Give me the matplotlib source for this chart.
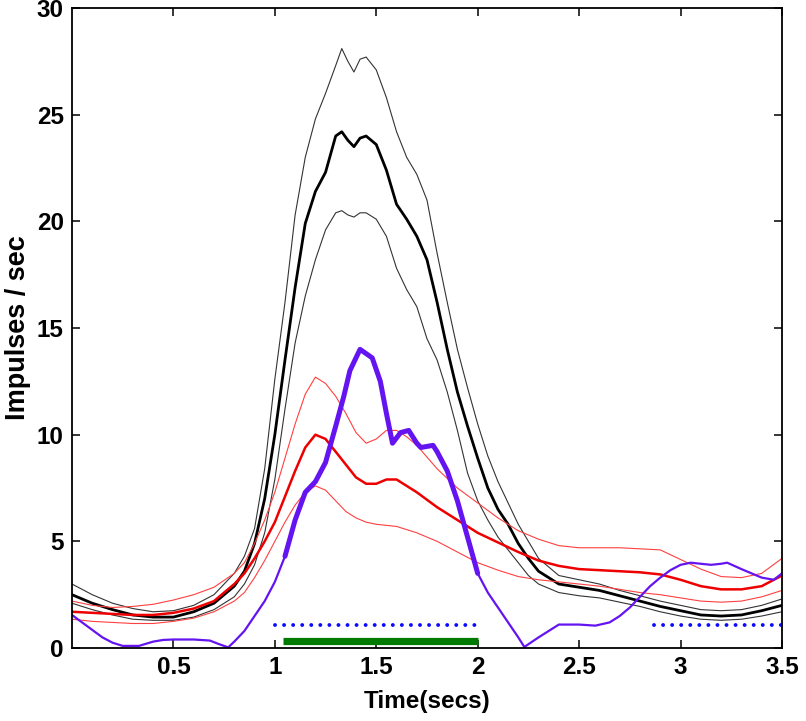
import numpy as np
import matplotlib
matplotlib.use("Agg")
import matplotlib.pyplot as plt

plt.rcParams['font.family'] = ['Liberation Sans', 'DejaVu Sans']

# -------------------- data --------------------
# black: mean firing rate with upper / lower band
blk_x = [0, 0.1, 0.2, 0.3, 0.4, 0.5, 0.6, 0.7, 0.8, 0.85, 0.9, 0.95, 1.0, 1.05,
         1.1, 1.15, 1.2, 1.25, 1.3, 1.33, 1.36, 1.39, 1.42, 1.45, 1.5, 1.55, 1.6,
         1.65, 1.7, 1.75, 1.8, 1.85, 1.9, 1.95, 2.0, 2.05, 2.1, 2.15, 2.2, 2.25,
         2.3, 2.4, 2.5, 2.6, 2.7, 2.8, 2.9, 3.0, 3.1, 3.2, 3.3, 3.4, 3.5]
blk_mean = [2.5, 2.1, 1.8, 1.55, 1.45, 1.45, 1.7, 2.1, 2.9, 3.6, 4.9, 7.0, 10.0, 13.5,
            16.9, 19.9, 21.4, 22.3, 24.0, 24.2, 23.8, 23.5, 23.9, 24.0, 23.6, 22.4, 20.8,
            20.1, 19.3, 18.2, 16.2, 14.0, 12.0, 10.4, 8.9, 7.5, 6.5, 5.8, 4.9, 4.2,
            3.6, 3.0, 2.85, 2.7, 2.45, 2.2, 1.95, 1.75, 1.55, 1.5, 1.55, 1.75, 2.0]
blk_upper = [3.0, 2.5, 2.1, 1.85, 1.7, 1.75, 2.0, 2.5, 3.5, 4.3, 5.6, 8.4, 12.6, 16.2,
             20.3, 23.0, 24.8, 26.0, 27.3, 28.1, 27.5, 27.0, 27.6, 27.7, 27.1, 25.8, 24.2,
             23.0, 22.2, 21.0, 18.5, 16.2, 14.0, 12.2, 10.5, 9.0, 7.8, 6.8, 5.8, 5.0,
             4.2, 3.4, 3.2, 3.0, 2.7, 2.45, 2.2, 2.0, 1.8, 1.75, 1.8, 2.0, 2.3]
blk_lower = [2.1, 1.8, 1.55, 1.35, 1.3, 1.3, 1.45, 1.8, 2.4, 3.0, 3.9, 5.4, 7.9, 11.2,
             14.3, 16.5, 18.2, 19.6, 20.4, 20.5, 20.3, 20.2, 20.4, 20.4, 20.1, 19.3, 17.8,
             16.8, 16.0, 14.5, 13.5, 12.0, 10.2, 8.2, 6.9, 6.0, 5.2, 4.6, 4.0, 3.4,
             3.0, 2.6, 2.45, 2.35, 2.15, 1.95, 1.7, 1.5, 1.35, 1.3, 1.35, 1.5, 1.7]

# red: second population mean with upper / lower band
red_x = [0, 0.1, 0.2, 0.3, 0.4, 0.5, 0.6, 0.7, 0.8, 0.85, 0.9, 0.95, 1.0, 1.05,
         1.1, 1.15, 1.2, 1.25, 1.3, 1.35, 1.4, 1.45, 1.5, 1.55, 1.6, 1.65, 1.7,
         1.8, 1.9, 2.0, 2.1, 2.2, 2.3, 2.4, 2.5, 2.6, 2.7, 2.8, 2.9, 3.0, 3.1,
         3.2, 3.3, 3.4, 3.5]
red_mean = [1.7, 1.65, 1.6, 1.55, 1.55, 1.65, 1.85, 2.2, 3.0, 3.5, 4.2, 5.0, 5.9, 7.1,
            8.3, 9.4, 10.0, 9.8, 9.2, 8.6, 8.0, 7.7, 7.7, 7.9, 7.9, 7.6, 7.3,
            6.6, 6.0, 5.4, 4.95, 4.5, 4.1, 3.85, 3.7, 3.65, 3.6, 3.55, 3.45, 3.2, 2.9,
            2.75, 2.75, 2.9, 3.4]
red_upper = [2.2, 2.0, 1.9, 1.95, 2.05, 2.25, 2.5, 2.85, 3.5, 4.0, 4.9, 6.0, 7.3, 8.9,
             10.5, 11.9, 12.7, 12.4, 11.8, 11.0, 10.1, 9.6, 9.8, 10.2, 10.2, 9.9, 9.5,
             8.4, 7.5, 6.8, 6.1, 5.5, 5.1, 4.8, 4.7, 4.7, 4.7, 4.65, 4.6, 4.15, 3.7,
             3.35, 3.3, 3.5, 4.2]
red_lower = [1.35, 1.25, 1.2, 1.15, 1.15, 1.25, 1.4, 1.7, 2.2, 2.6, 3.3, 4.1, 5.0, 5.9,
             6.7, 7.3, 7.6, 7.4, 6.9, 6.4, 6.1, 5.9, 5.8, 5.75, 5.7, 5.55, 5.4,
             5.0, 4.5, 4.0, 3.65, 3.35, 3.2, 3.1, 3.0, 2.9, 2.75, 2.6, 2.5, 2.35, 2.2,
             2.15, 2.2, 2.4, 2.7]

# purple: response curve
pur_x = [0, 0.05, 0.1, 0.15, 0.2, 0.25, 0.33, 0.4, 0.45, 0.5, 0.6, 0.68, 0.72, 0.77,
         0.8, 0.85, 0.9, 0.95, 1.0, 1.05, 1.1, 1.15, 1.2, 1.25, 1.3, 1.34, 1.37, 1.4,
         1.42, 1.45, 1.48, 1.52, 1.55, 1.58, 1.62, 1.66, 1.7, 1.72, 1.78, 1.8, 1.85,
         1.9, 1.95, 2.0, 2.05, 2.1, 2.15, 2.2, 2.23, 2.3, 2.4, 2.5, 2.58, 2.65, 2.7,
         2.75, 2.8, 2.85, 2.9, 2.95, 3.0, 3.05, 3.1, 3.15, 3.2, 3.23, 3.3, 3.35, 3.4,
         3.46, 3.5]
pur_y = [1.55, 1.2, 0.85, 0.5, 0.25, 0.1, 0.1, 0.3, 0.38, 0.4, 0.4, 0.35, 0.2, 0.03,
         0.3, 0.8, 1.5, 2.2, 3.1, 4.3, 6.0, 7.3, 7.8, 8.7, 10.4, 11.8, 13.0, 13.6,
         14.0, 13.8, 13.6, 12.5, 11.0, 9.6, 10.1, 10.2, 9.6, 9.4, 9.5, 9.2, 8.3,
         6.9, 5.2, 3.5, 2.6, 1.9, 1.2, 0.5, 0.05, 0.5, 1.1, 1.1, 1.05, 1.2, 1.5,
         1.9, 2.4, 2.9, 3.3, 3.65, 3.9, 4.0, 3.95, 3.9, 3.95, 4.0, 3.7, 3.5, 3.3,
         3.2, 3.5]
pur_thick = (1.03, 2.0)

# markers along the bottom
dots_spans = [(1.0, 2.0), (2.87, 3.5)]
dots_level = 1.1
bar_span = (1.04, 2.0)
bar_level = 0.35

# -------------------- plot --------------------
fig = plt.figure(figsize=(8.06, 7.21), dpi=100)
ax = fig.add_axes([0.0893, 0.1012, 0.8809, 0.8877])

ax.plot(blk_x, blk_upper, color='#333333', lw=0.8)
ax.plot(blk_x, blk_lower, color='#333333', lw=0.8)
ax.plot(blk_x, blk_mean, color='black', lw=2.0)

ax.plot(red_x, red_upper, color='#ff4040', lw=0.8)
ax.plot(red_x, red_lower, color='#ff4040', lw=0.8)
ax.plot(red_x, red_mean, color='#ee0000', lw=1.8)

px = np.array(pur_x)
py = np.array(pur_y)
ax.plot(px, py, color='#6414f0', lw=1.6)
m = (px >= pur_thick[0]) & (px <= pur_thick[1])
ax.plot(px[m], py[m], color='#6414f0', lw=3.6, solid_capstyle='round',
        solid_joinstyle='round')

for a, b in dots_spans:
    ax.plot([a, b], [dots_level, dots_level], color='#0a0aff', lw=2.8,
            linestyle=(0, (0.01, 2.32)), dash_capstyle='round')
ax.plot(bar_span, [bar_level, bar_level], color='#007a00', lw=5.2,
        solid_capstyle='butt')

ax.set_xlim(0, 3.5)
ax.set_ylim(0, 30)
ax.set_xticks([0.5, 1, 1.5, 2, 2.5, 3, 3.5])
ax.set_xticklabels(['0.5', '1', '1.5', '2', '2.5', '3', '3.5'])
ax.set_yticks([0, 5, 10, 15, 20, 25, 30])
ax.tick_params(direction='in', top=True, right=True, length=6, width=1.1,
               labelsize=17.5, pad=6)
for lab in ax.get_xticklabels() + ax.get_yticklabels():
    lab.set_fontweight('bold')
for s in ax.spines.values():
    s.set_linewidth(1.3)

ax.set_xlabel('Time(secs)', fontsize=17.5, fontweight='bold', labelpad=8)
ax.set_ylabel('Impulses / sec', fontsize=19.5, fontweight='bold', labelpad=4)

fig.savefig('out.png', dpi=100)
